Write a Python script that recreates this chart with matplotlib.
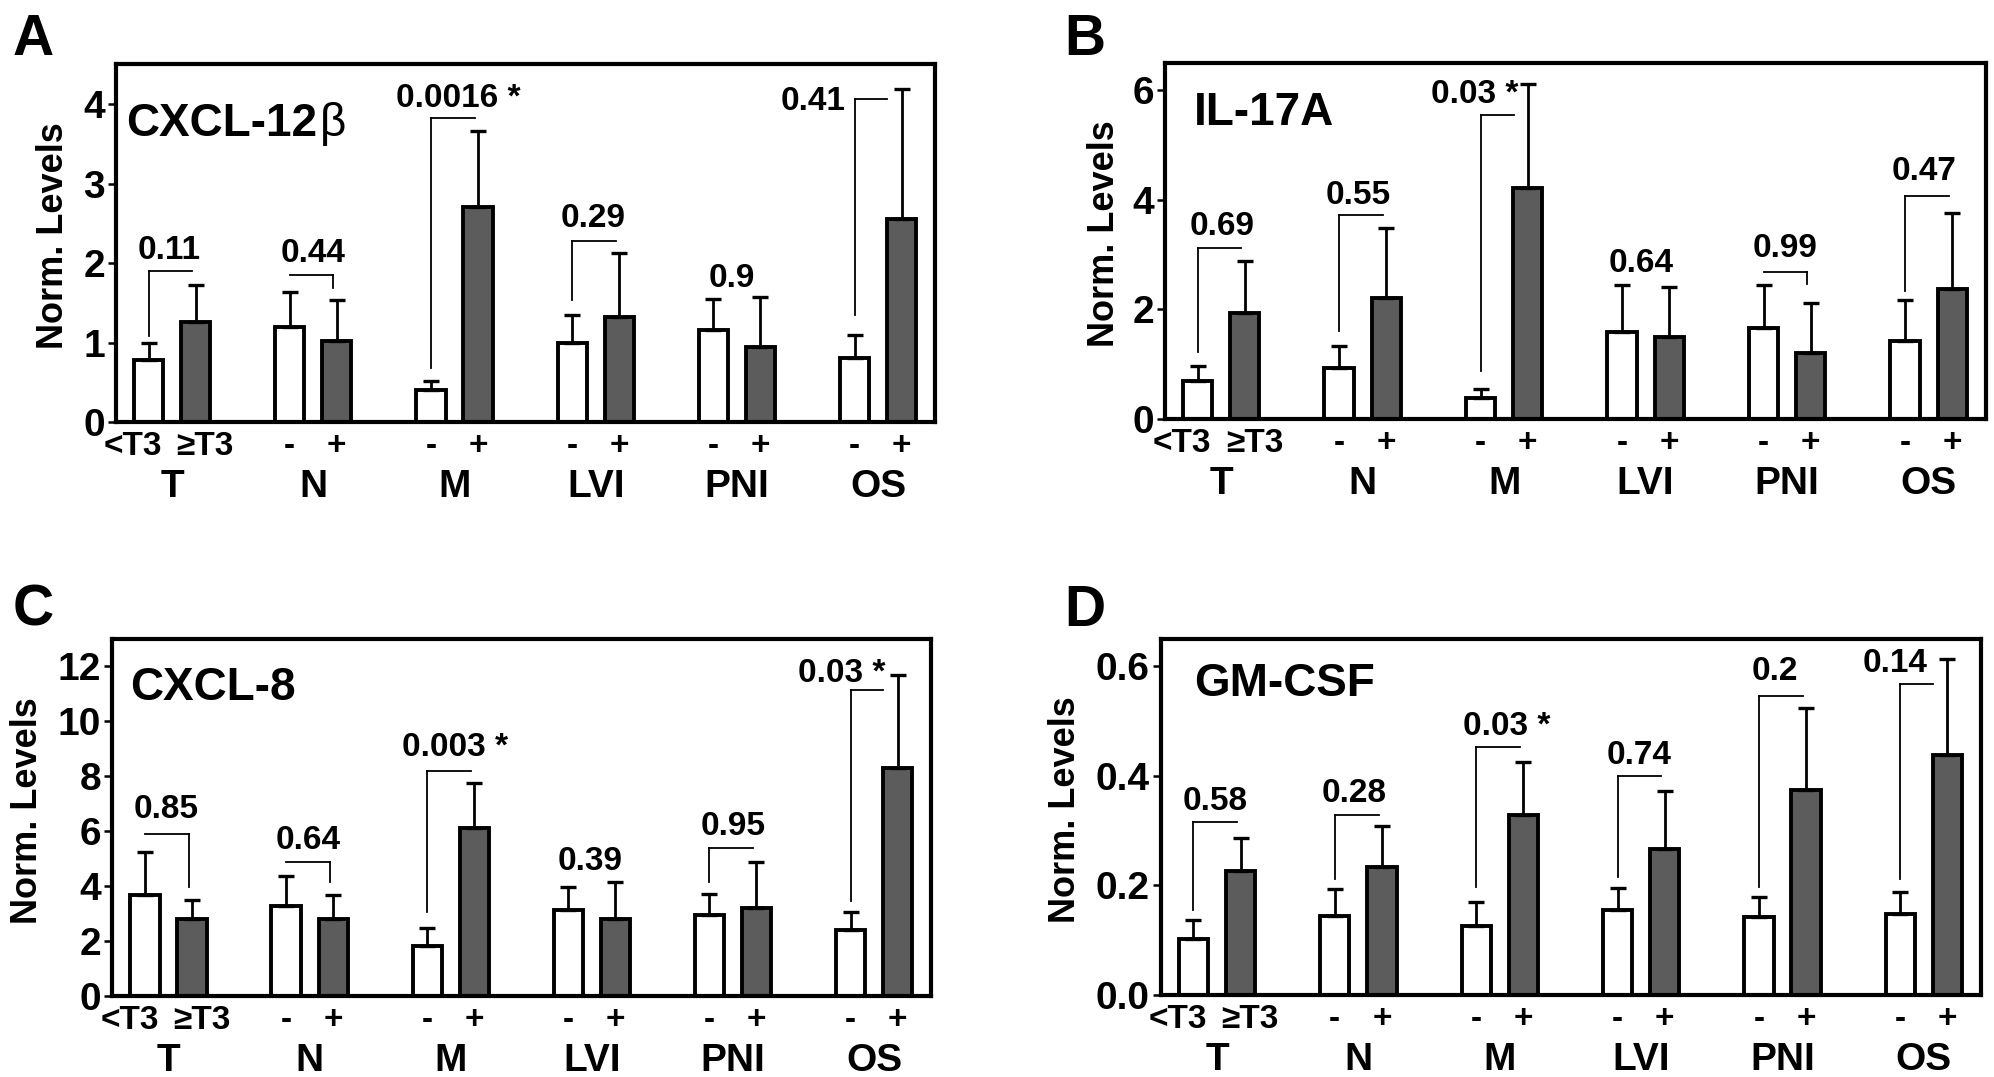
"""Four-panel cytokine bar chart (CXCL-12b, IL-17A, CXCL-8, GM-CSF) vs. clinical groups."""

import matplotlib

matplotlib.use("Agg")
import matplotlib.pyplot as plt
import numpy as np

plt.rcParams["font.family"] = ["Liberation Sans", "DejaVu Sans"]
plt.rcParams["font.weight"] = "bold"
plt.rcParams["axes.labelweight"] = "bold"

GROUPS = ["T", "N", "M", "LVI", "PNI", "OS"]
SUBLABELS = ["<T3", "≥T3", "-", "+", "-", "+", "-", "+", "-", "+", "-", "+"]

# panel A - CXCL-12b (mean, SEM); "neg" = open bars, "pos" = grey bars
a_neg = [0.78, 1.19, 0.40, 1.00, 1.16, 0.81]
a_neg_sem = [0.22, 0.45, 0.11, 0.35, 0.39, 0.29]
a_pos = [1.26, 1.02, 2.71, 1.32, 0.94, 2.55]
a_pos_sem = [0.47, 0.51, 0.95, 0.81, 0.63, 1.64]
a_p = ["0.11", "0.44", "0.0016 *", "0.29", "0.9", "0.41"]
# p-value text: (x relative to open bar, baseline y)
a_ptxt = [(0.43, 2.05), (0.49, 2.01), (0.59, 3.97), (0.45, 2.45), (0.39, 1.70), (-0.89, 3.92)]
# bracket: (height, left drop end, right drop end)
a_br = [(1.90, 1.08, None), (1.85, None, 1.69), (3.82, 0.68, None),
        (2.28, 1.54, None), None, (4.07, 1.34, None)]

# panel B - IL-17A
b_neg = [0.69, 0.93, 0.39, 1.59, 1.66, 1.42]
b_neg_sem = [0.27, 0.41, 0.15, 0.86, 0.78, 0.75]
b_pos = [1.94, 2.21, 4.21, 1.49, 1.20, 2.37]
b_pos_sem = [0.95, 1.28, 1.91, 0.91, 0.91, 1.39]
b_p = ["0.69", "0.55", "0.03 *", "0.64", "0.99", "0.47"]
b_ptxt = [(0.51, 3.36), (0.40, 3.92), (-0.13, 5.76), (0.40, 2.68), (0.46, 2.95), (0.40, 4.36)]
b_br = [(3.125, 1.22, None), (3.72, 1.61, None), (5.54, 0.87, None),
        None, (2.69, None, 2.46), (4.06, 2.33, None)]

# panel C - CXCL-8
c_neg = [3.66, 3.29, 1.83, 3.14, 2.94, 2.39]
c_neg_sem = [1.57, 1.06, 0.65, 0.81, 0.76, 0.65]
c_pos = [2.79, 2.81, 6.10, 2.81, 3.20, 8.29]
c_pos_sem = [0.69, 0.85, 1.65, 1.35, 1.68, 3.40]
c_p = ["0.85", "0.64", "0.003 *", "0.39", "0.95", "0.03 *"]
c_ptxt = [(0.45, 6.48), (0.47, 5.35), (0.59, 8.73), (0.47, 4.60), (0.50, 5.85), (-0.18, 11.41)]
c_br = [(5.89, None, 3.98), (4.875, None, 4.16), (8.2, 3.04, None),
        None, (5.39, 4.16, None), (11.14, 3.45, None)]

# panel D - GM-CSF
d_neg = [0.102, 0.144, 0.126, 0.155, 0.142, 0.148]
d_neg_sem = [0.034, 0.049, 0.043, 0.040, 0.037, 0.040]
d_pos = [0.227, 0.234, 0.329, 0.266, 0.374, 0.4375]
d_pos_sem = [0.059, 0.074, 0.096, 0.107, 0.149, 0.175]
d_p = ["0.58", "0.28", "0.03 *", "0.74", "0.2", "0.14"]
d_ptxt = [(0.47, 0.3375), (0.41, 0.353), (0.65, 0.475), (0.46, 0.422), (0.34, 0.574), (-0.11, 0.589)]
d_br = [(0.316, 0.156, None), (0.328, 0.2125, None), (0.452, 0.197, None),
        (0.399, 0.216, None), (0.546, 0.197, None), (0.567, 0.2125, None)]

GRAY = "#5c5c5c"
BAR_W = 0.62
SUB_NUDGE = {"<T3": -11, "≥T3": 7}  # the T labels are wider than the bar gap


def draw(ax, neg, neg_sem, pos, pos_sem, pvals, ptxt, brackets, ymax, yticks, fmt):
    n = len(GROUPS)
    xn = np.arange(n) * 3.0
    xp = xn + 1
    ax.bar(xn, neg, width=BAR_W, color="white", edgecolor="black", lw=2.8, zorder=2)
    ax.bar(xp, pos, width=BAR_W, color=GRAY, edgecolor="black", lw=2.8, zorder=2)
    for x, v, e in ((xn, neg, neg_sem), (xp, pos, pos_sem)):
        ax.errorbar(x, v, yerr=[np.zeros(n), e], fmt="none", ecolor="black",
                    elinewidth=2.0, capsize=6, capthick=2.4, zorder=3)

    for g in range(n):
        br = brackets[g]
        if br is not None:
            h, lo_l, lo_r = br
            x0 = xn[g]
            # stop short of the right error bar when it pokes through
            x1 = xn[g] + (0.7 if pos[g] + pos_sem[g] > h else 0.93)
            ax.plot([x0, x1], [h, h], color="black", lw=1.3, zorder=4)
            if lo_l is not None:
                ax.plot([x0, x0], [lo_l, h], color="black", lw=1.3, zorder=4)
            if lo_r is not None:
                ax.plot([x1, x1], [lo_r, h], color="black", lw=1.3, zorder=4)
        dx, ty = ptxt[g]
        ax.text(xn[g] + dx, ty, pvals[g], ha="center", va="baseline", fontsize=24, zorder=5)

    for x, s in zip(np.ravel(np.column_stack([xn, xp])), SUBLABELS):
        ax.annotate(s, xy=(x, 0), xycoords=("data", "axes fraction"),
                    xytext=(SUB_NUDGE.get(s, 0), -24), textcoords="offset points",
                    ha="center", va="baseline", fontsize=24)
    for g in range(n):
        ax.annotate(GROUPS[g], xy=(xn[g] + 0.5, 0), xycoords=("data", "axes fraction"),
                    xytext=(0, -54), textcoords="offset points", ha="center",
                    va="baseline", fontsize=28)

    ax.set_xlim(-0.69, 16.71)
    ax.set_ylim(0, ymax)
    ax.set_xticks([])
    ax.set_yticks(yticks)
    ax.set_yticklabels([fmt.format(t) for t in yticks])
    ax.tick_params(axis="y", length=6, width=1.8, labelsize=28, pad=2)
    for sp in ax.spines.values():
        sp.set_linewidth(3)
    ax.set_ylabel("Norm. Levels", fontsize=26)


fig = plt.figure(figsize=(19.94, 10.77), dpi=100)

axA = fig.add_axes([0.0582, 0.6082, 0.4107, 0.3320])
draw(axA, a_neg, a_neg_sem, a_pos, a_pos_sem, a_p, a_ptxt, a_br, 4.5, [0, 1, 2, 3, 4], "{:g}")
axB = fig.add_axes([0.5843, 0.6110, 0.4115, 0.3307])
draw(axB, b_neg, b_neg_sem, b_pos, b_pos_sem, b_p, b_ptxt, b_br, 6.5, [0, 2, 4, 6], "{:g}")
axC = fig.add_axes([0.0564, 0.0752, 0.4105, 0.3318])
draw(axC, c_neg, c_neg_sem, c_pos, c_pos_sem, c_p, c_ptxt, c_br, 13, [0, 2, 4, 6, 8, 10, 12], "{:g}")
axD = fig.add_axes([0.5822, 0.0761, 0.4112, 0.3308])
draw(axD, d_neg, d_neg_sem, d_pos, d_pos_sem, d_p, d_ptxt, d_br, 0.65, [0.0, 0.2, 0.4, 0.6], "{:.1f}")

for ax, xl in ((axA, -0.055), (axB, -0.052), (axC, -0.083), (axD, -0.095)):
    ax.yaxis.set_label_coords(xl, 0.52)

# cytokine names inside the panels
t = axA.text(0.012, 0.80, "CXCL-12", transform=axA.transAxes, fontsize=33, va="baseline")
axA.annotate("β", xy=(1, 0), xycoords=t, xytext=(2, 0), textcoords="offset points",
             va="bottom", fontsize=33, fontweight="normal")
axB.text(0.035, 0.826, "IL-17A", transform=axB.transAxes, fontsize=33, va="baseline")
axC.text(0.021, 0.829, "CXCL-8", transform=axC.transAxes, fontsize=33, va="baseline")
axD.text(0.040, 0.840, "GM-CSF", transform=axD.transAxes, fontsize=33, va="baseline")

for letter, x, y in (("A", 0.0065, 0.949), ("B", 0.5336, 0.949),
                     ("C", 0.0065, 0.4188), ("D", 0.5336, 0.4188)):
    fig.text(x, y, letter, fontsize=41, va="baseline")

fig.savefig("out.png", dpi=100)
